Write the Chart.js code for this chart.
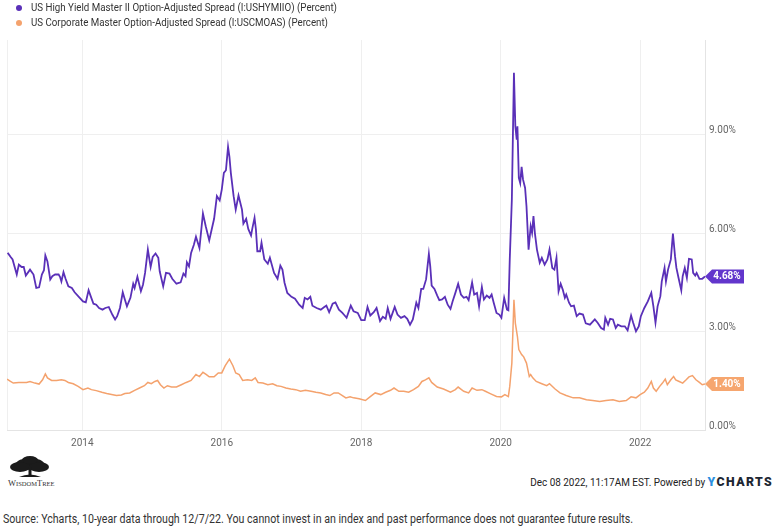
<!DOCTYPE html>
<html>
<head>
<meta charset="utf-8">
<script src="https://cdn.jsdelivr.net/npm/chart.js@4.4.0/dist/chart.umd.min.js"></script>
<style>
  html, body { margin: 0; padding: 0; background: #fff; }
  #wrap { position: relative; width: 777px; height: 532px; overflow: hidden; font-family: Roboto, "Noto Sans", sans-serif; }
  #chart-box { position: absolute; left: 0; top: 0; width: 777px; height: 452px; }
  #legend { position: absolute; left: 0; top: 0; font-size: 11px; color: #333; }
  .leg-item { position: absolute; left: 0; white-space: nowrap; height: 14px; line-height: 14px; }
  .leg-dot { position: absolute; left: 16px; top: 4px; width: 6px; height: 6px; border-radius: 50%; }
  .leg-text { position: absolute; left: 31px; top: 0; transform-origin: left center; }
  #logo { position: absolute; left: 6px; top: 455px; }
  #stamp { position: absolute; right: 4px; top: 474px; white-space: nowrap; font-size: 10.5px; color: #222; transform-origin: right center; }
  #stamp b { font-size: 13px; letter-spacing: 1.5px; color: #1d2733; font-weight: 900; }
  #stamp b span { color: #2b8fe0; }
  #source { position: absolute; left: 3px; top: 512px; white-space: nowrap; font-size: 12px; color: #333; transform-origin: left center; }
</style>
</head>
<body>
<div id="wrap">
  <div id="chart-box"><canvas id="myChart" width="777" height="452"></canvas></div>
  <div id="legend"></div>
  <svg id="logo" width="64" height="34" viewBox="0 0 64 34">
    <g fill="#1b1b1b">
      <ellipse cx="24" cy="9" rx="14" ry="6"/>
      <ellipse cx="14" cy="12" rx="10" ry="5"/>
      <ellipse cx="33" cy="12" rx="10" ry="5"/>
      <ellipse cx="24" cy="5" rx="8" ry="4"/>
      <rect x="22.5" y="12" width="3" height="9"/>
      <path d="M13 22 Q24 17 35 22 Z"/>
    </g>
    <text x="2" y="31" font-family="Liberation Serif, serif" font-size="8.5" fill="#333">W<tspan font-size="6.5">ISDOM</tspan>T<tspan font-size="6.5">REE</tspan></text>
  </svg>
  <div id="stamp">Dec 08 2022, 11:17AM EST. Powered by <b><span>Y</span>CHARTS</b></div>
  <div id="source">Source: Ycharts, 10-year data through 12/7/22. You cannot invest in an index and past performance does not guarantee future results.</div>
</div>
<script>
// series names shown in the legend
var seriesNames = [
  'US High Yield Master II Option-Adjusted Spread (I:USHYMIIO) (Percent)',
  'US Corporate Master Option-Adjusted Spread (I:USCMOAS) (Percent)'
];

// high yield spread (decimal year / percent)
var hyYears = [
  2012.93, 2012.97,
  2013.00, 2013.03, 2013.06, 2013.09, 2013.13, 2013.16, 2013.19, 2013.25, 2013.30, 2013.34, 2013.38, 2013.42, 2013.45, 2013.47, 2013.50, 2013.54, 2013.57, 2013.61, 2013.66, 2013.68, 2013.70, 2013.73, 2013.76, 2013.80, 2013.85, 2013.89, 2013.95,
  2014.01, 2014.05, 2014.09, 2014.12, 2014.16, 2014.20, 2014.24, 2014.29, 2014.33, 2014.38, 2014.43, 2014.47, 2014.50, 2014.54, 2014.58, 2014.61, 2014.64, 2014.69, 2014.73, 2014.75, 2014.79, 2014.84, 2014.87, 2014.90, 2014.94, 2014.98,
  2015.01, 2015.05, 2015.09, 2015.11, 2015.16, 2015.20, 2015.25, 2015.29, 2015.35, 2015.41, 2015.45, 2015.48, 2015.50, 2015.53, 2015.56, 2015.60, 2015.63, 2015.68, 2015.73, 2015.77, 2015.82, 2015.86, 2015.89, 2015.93, 2015.97,
  2016.00, 2016.03, 2016.06, 2016.09, 2016.11, 2016.13, 2016.17, 2016.20, 2016.24, 2016.29, 2016.31, 2016.35, 2016.38, 2016.42, 2016.44, 2016.47, 2016.49, 2016.51, 2016.55, 2016.57, 2016.61, 2016.66, 2016.69, 2016.75, 2016.80, 2016.84, 2016.87, 2016.90, 2016.94,
  2017.00, 2017.05, 2017.11, 2017.16, 2017.19, 2017.23, 2017.27, 2017.30, 2017.36, 2017.42, 2017.47, 2017.50, 2017.54, 2017.59, 2017.63, 2017.68, 2017.73, 2017.75, 2017.79, 2017.85, 2017.89, 2017.95,
  2018.00, 2018.05, 2018.09, 2018.13, 2018.18, 2018.22, 2018.27, 2018.31, 2018.35, 2018.38, 2018.42, 2018.48, 2018.52, 2018.57, 2018.62, 2018.66, 2018.70, 2018.74, 2018.79, 2018.82, 2018.86, 2018.89, 2018.93, 2018.97, 2018.99,
  2019.01, 2019.05, 2019.09, 2019.12, 2019.16, 2019.20, 2019.24, 2019.28, 2019.31, 2019.35, 2019.39, 2019.43, 2019.47, 2019.51, 2019.54, 2019.59, 2019.62, 2019.66, 2019.69, 2019.73, 2019.76, 2019.80, 2019.84, 2019.87, 2019.90, 2019.94, 2019.98,
  2020.01, 2020.05, 2020.09, 2020.11, 2020.13, 2020.16, 2020.19, 2020.21, 2020.23, 2020.24, 2020.26, 2020.28, 2020.30, 2020.32, 2020.35, 2020.37, 2020.40, 2020.43, 2020.45, 2020.47, 2020.49, 2020.52, 2020.56, 2020.59, 2020.63, 2020.67, 2020.70, 2020.74, 2020.77, 2020.80, 2020.83, 2020.86, 2020.89, 2020.92, 2020.94, 2020.98,
  2021.01, 2021.05, 2021.09, 2021.13, 2021.18, 2021.22, 2021.28, 2021.35, 2021.39, 2021.44, 2021.48, 2021.50, 2021.54, 2021.57, 2021.61, 2021.65, 2021.68, 2021.73, 2021.78, 2021.82, 2021.87, 2021.90, 2021.94, 2021.98,
  2022.01, 2022.06, 2022.11, 2022.16, 2022.19, 2022.22, 2022.25, 2022.29, 2022.31, 2022.35, 2022.37, 2022.40, 2022.44, 2022.47, 2022.50, 2022.52, 2022.55, 2022.59, 2022.61, 2022.64, 2022.67, 2022.70, 2022.74, 2022.76, 2022.79, 2022.81, 2022.85, 2022.89, 2022.93
];
var hyValues = [
  5.40, 5.28,
  5.20, 4.97, 4.74, 5.04, 4.97, 4.97, 4.71, 4.89, 4.74, 4.33, 4.35, 4.74, 4.87, 5.32, 5.14, 4.59, 4.69, 4.74, 4.74, 4.67, 4.53, 4.81, 4.61, 4.38, 4.33, 4.20, 4.06,
  3.92, 3.89, 4.26, 4.08, 3.85, 3.82, 3.72, 3.67, 3.72, 3.75, 3.52, 3.37, 3.47, 3.72, 4.20, 3.98, 3.77, 4.03, 4.46, 4.33, 4.67, 4.23, 4.43, 4.79, 5.50, 4.97,
  5.28, 5.38, 5.25, 4.84, 4.38, 4.79, 4.77, 4.61, 4.46, 4.50, 4.77, 4.69, 5.11, 4.99, 5.40, 5.65, 5.89, 5.55, 6.60, 6.21, 5.78, 6.16, 6.44, 7.13, 7.00,
  7.33, 7.84, 7.92, 8.63, 8.33, 7.84, 7.13, 6.72, 7.15, 6.72, 6.29, 6.44, 6.13, 5.93, 6.16, 6.47, 6.11, 5.45, 5.45, 5.71, 5.20, 5.07, 5.25, 4.79, 4.61, 5.01, 4.89, 4.49, 4.18,
  4.06, 4.00, 3.82, 3.72, 4.03, 3.98, 4.06, 3.79, 3.72, 3.67, 3.75, 3.79, 3.59, 3.85, 3.89, 3.67, 3.57, 3.52, 3.42, 3.79, 3.62, 3.57,
  3.35, 3.35, 3.75, 3.49, 3.59, 3.72, 3.32, 3.45, 3.39, 3.72, 3.39, 3.75, 3.52, 3.42, 3.47, 3.39, 3.21, 3.37, 3.88, 3.72, 4.30, 4.30, 4.59, 5.37, 4.99,
  4.40, 4.30, 4.10, 3.96, 3.98, 4.06, 3.82, 3.69, 3.92, 4.18, 4.46, 4.13, 4.03, 4.06, 3.96, 4.50, 4.13, 4.18, 3.77, 4.36, 3.98, 4.10, 4.03, 4.13, 3.88, 3.57, 3.52,
  3.42, 4.03, 3.67, 3.65, 5.20, 7.03, 10.89, 9.26, 8.85, 9.26, 7.69, 7.53, 8.02, 7.64, 7.38, 6.82, 5.50, 6.21, 6.01, 6.52, 6.01, 5.50, 5.10, 5.25, 5.04, 5.20, 5.50, 4.94, 4.89, 5.25, 4.23, 4.46, 4.28, 4.03, 4.13, 3.88,
  3.77, 3.79, 3.47, 3.55, 3.52, 3.25, 3.21, 3.37, 3.27, 3.11, 3.06, 3.42, 3.21, 3.39, 3.37, 3.11, 3.21, 3.16, 3.16, 3.04, 3.49, 3.27, 3.01, 3.16,
  3.47, 3.72, 3.92, 4.18, 3.77, 3.27, 3.77, 4.08, 4.53, 4.94, 4.53, 4.89, 5.20, 5.99, 5.30, 4.94, 4.64, 4.26, 4.69, 4.94, 4.64, 5.22, 5.20, 4.79, 4.71, 4.79, 4.61, 4.61, 4.68
];

// investment grade corporate spread
var igYears = [
  2012.92, 2012.97,
  2013.01, 2013.09, 2013.16, 2013.20, 2013.25, 2013.32, 2013.38, 2013.43, 2013.47, 2013.50, 2013.56, 2013.63, 2013.70, 2013.75, 2013.80, 2013.87, 2013.94,
  2014.01, 2014.08, 2014.13, 2014.20, 2014.28, 2014.35, 2014.42, 2014.49, 2014.56, 2014.61, 2014.68, 2014.75, 2014.82, 2014.89, 2014.94, 2014.99,
  2015.04, 2015.08, 2015.12, 2015.17, 2015.22, 2015.28, 2015.35, 2015.42, 2015.49, 2015.56, 2015.63, 2015.68, 2015.73, 2015.78, 2015.82, 2015.89, 2015.95,
  2016.00, 2016.05, 2016.11, 2016.16, 2016.20, 2016.25, 2016.30, 2016.37, 2016.43, 2016.48, 2016.52, 2016.59, 2016.66, 2016.73, 2016.79, 2016.85, 2016.92, 2016.99,
  2017.06, 2017.13, 2017.20, 2017.28, 2017.35, 2017.42, 2017.49, 2017.55, 2017.61, 2017.67, 2017.73, 2017.78, 2017.84, 2017.89, 2017.97,
  2018.06, 2018.13, 2018.20, 2018.28, 2018.35, 2018.42, 2018.47, 2018.54, 2018.61, 2018.68, 2018.75, 2018.82, 2018.87, 2018.92, 2018.97,
  2019.01, 2019.09, 2019.18, 2019.28, 2019.35, 2019.39, 2019.47, 2019.54, 2019.59, 2019.66, 2019.73, 2019.78, 2019.85, 2019.94,
  2020.01, 2020.06, 2020.11, 2020.13, 2020.16, 2020.19, 2020.21, 2020.24, 2020.26, 2020.30, 2020.33, 2020.37, 2020.41, 2020.43, 2020.46, 2020.51, 2020.59, 2020.66, 2020.70, 2020.78, 2020.85, 2020.94,
  2021.04, 2021.13, 2021.23, 2021.32, 2021.42, 2021.51, 2021.61, 2021.70, 2021.80, 2021.87, 2021.94,
  2022.00, 2022.06, 2022.11, 2022.16, 2022.19, 2022.23, 2022.28, 2022.32, 2022.36, 2022.39, 2022.44, 2022.48, 2022.51, 2022.56, 2022.61, 2022.66, 2022.70, 2022.75, 2022.80, 2022.85, 2022.89, 2022.93
];
var igValues = [
  1.55, 1.48,
  1.43, 1.45, 1.45, 1.45, 1.48, 1.43, 1.40, 1.53, 1.71, 1.59, 1.51, 1.51, 1.53, 1.51, 1.45, 1.41, 1.33,
  1.23, 1.28, 1.23, 1.20, 1.15, 1.11, 1.08, 1.05, 1.07, 1.11, 1.13, 1.21, 1.28, 1.35, 1.45, 1.41,
  1.48, 1.51, 1.38, 1.28, 1.35, 1.31, 1.31, 1.38, 1.45, 1.51, 1.69, 1.63, 1.76, 1.69, 1.62, 1.62, 1.74,
  1.74, 1.96, 2.16, 1.96, 1.74, 1.69, 1.51, 1.53, 1.51, 1.59, 1.45, 1.43, 1.38, 1.41, 1.35, 1.33, 1.28, 1.25,
  1.23, 1.18, 1.21, 1.18, 1.15, 1.13, 1.08, 1.05, 1.13, 1.13, 1.05, 0.98, 1.01, 0.98, 0.95,
  0.90, 1.02, 1.13, 1.08, 1.15, 1.21, 1.28, 1.18, 1.18, 1.15, 1.23, 1.33, 1.48, 1.53, 1.59,
  1.45, 1.31, 1.25, 1.15, 1.23, 1.31, 1.18, 1.13, 1.28, 1.21, 1.23, 1.18, 1.11, 1.02,
  1.01, 1.08, 1.02, 1.33, 2.04, 3.97, 3.26, 2.85, 2.45, 2.30, 2.23, 2.04, 1.63, 1.69, 1.59, 1.48, 1.41, 1.35, 1.41, 1.25, 1.13, 1.05,
  0.98, 0.98, 0.92, 0.90, 0.87, 0.90, 0.92, 0.87, 0.90, 1.01, 0.98,
  1.08, 1.15, 1.28, 1.48, 1.28, 1.18, 1.33, 1.43, 1.55, 1.38, 1.53, 1.63, 1.53, 1.48, 1.43, 1.53, 1.62, 1.66, 1.53, 1.45, 1.38, 1.40
];

// axis ticks
var yearTicks = [2014, 2016, 2018, 2020, 2022];
var percentTicks = [0, 3, 6, 9];

var lineColors = ['#5a30b8', '#f4a26d'];
var badgeColors = ['#6236cc', '#f6a66f'];

function toPoints(xs, ys) {
  var pts = [];
  for (var i = 0; i < Math.min(xs.length, ys.length); i++) {
    pts.push({ x: xs[i], y: ys[i] });
  }
  return pts;
}

// little flag with the last value, sitting on the right axis
var lastValueBadge = {
  id: 'lastValueBadge',
  afterDatasetsDraw: function (chart) {
    var ctx = chart.ctx;
    var area = chart.chartArea;
    chart.data.datasets.forEach(function (ds, i) {
      var last = ds.data[ds.data.length - 1];
      var y = chart.scales.y.getPixelForValue(last.y);
      var x0 = area.right;
      var h = 14, tip = 7, w = 32;
      ctx.save();
      ctx.fillStyle = badgeColors[i];
      ctx.beginPath();
      ctx.moveTo(x0, y);
      ctx.lineTo(x0 + tip, y - h / 2);
      ctx.lineTo(x0 + tip + w, y - h / 2);
      ctx.lineTo(x0 + tip + w, y + h / 2);
      ctx.lineTo(x0 + tip, y + h / 2);
      ctx.closePath();
      ctx.fill();
      ctx.fillStyle = '#fff';
      ctx.font = 'bold 10px Roboto';
      ctx.textAlign = 'center';
      ctx.textBaseline = 'middle';
      ctx.fillText(last.y.toFixed(2) + '%', x0 + tip + w / 2 - 1, y + 0.5);
      ctx.restore();
    });
  }
};

var ctx = document.getElementById('myChart');

var myChart = new Chart(ctx, {
  type: 'line',
  data: {
    datasets: [{
      label: seriesNames[0],
      data: toPoints(hyYears, hyValues),
      borderColor: lineColors[0],
      borderWidth: 1.8,
      pointRadius: 0,
      tension: 0
    }, {
      label: seriesNames[1],
      data: toPoints(igYears, igValues),
      borderColor: lineColors[1],
      borderWidth: 1.5,
      pointRadius: 0,
      tension: 0
    }]
  },
  options: {
    responsive: false,
    animation: false,
    layout: { padding: { top: 40, left: 5, right: 0, bottom: 0 } },
    plugins: {
      legend: { display: false },
      tooltip: { enabled: false }
    },
    scales: {
      x: {
        type: 'linear',
        min: 2012.92,
        max: 2022.93,
        afterBuildTicks: function (scale) {
          scale.ticks = [{ value: 2012.92 }].concat(yearTicks.map(function (v) { return { value: v }; }));
        },
        afterFit: function (scale) { scale.height = 22; },
        ticks: {
          color: '#666',
          font: { size: 10, family: 'Roboto' },
          padding: 7,
          maxRotation: 0,
          autoSkip: false,
          callback: function (v) { return yearTicks.indexOf(v) >= 0 ? String(v) : ''; }
        },
        grid: { color: '#efefef', drawTicks: false },
        border: { color: '#e4e4e4' }
      },
      y: {
        position: 'right',
        min: 0,
        max: 11.89,
        afterBuildTicks: function (scale) {
          scale.ticks = percentTicks.map(function (v) { return { value: v }; });
        },
        afterFit: function (scale) { scale.width = 72; },
        ticks: {
          color: '#666',
          font: { size: 10, family: 'Roboto' },
          padding: 4,
          labelOffset: -4,
          callback: function (v) { return v.toFixed(2) + '%'; }
        },
        grid: { color: '#efefef', drawTicks: false },
        border: { color: '#e4e4e4' }
      }
    }
  },
  plugins: [lastValueBadge]
});

// html legend from the dataset labels
var legend = document.getElementById('legend');
myChart.data.datasets.forEach(function (ds, i) {
  var item = document.createElement('div');
  item.className = 'leg-item';
  item.style.top = (1 + i * 15) + 'px';
  item.innerHTML = '<span class="leg-dot" style="background:' + lineColors[i] + '"></span>' +
    '<span class="leg-text">' + ds.label + '</span>';
  legend.appendChild(item);
});

// the screenshot text is narrower than the fonts we have, squeeze to the measured widths
function squeeze(el, target) {
  var w = el.getBoundingClientRect().width;
  if (w > 0) el.style.transform = 'scaleX(' + (target / w) + ')';
}
var texts = document.querySelectorAll('.leg-text');
squeeze(texts[0], 306);
squeeze(texts[1], 297);
squeeze(document.getElementById('stamp'), 243);
squeeze(document.getElementById('source'), 630);
</script>
</body>
</html>
